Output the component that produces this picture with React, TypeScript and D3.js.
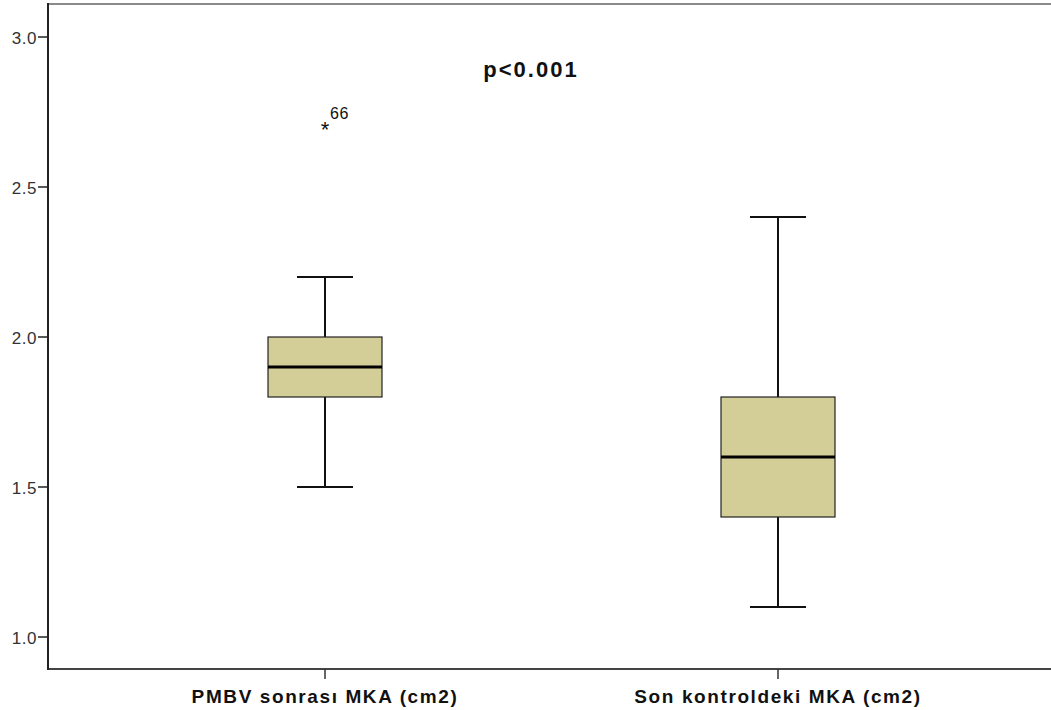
import React from 'react';
import * as d3 from 'd3';

// box plot summaries
const categories = ['PMBV sonrası MKA (cm2)', 'Son kontroldeki MKA (cm2)'];
const whiskerLow = [1.5, 1.1];
const q1 = [1.8, 1.4];
const median = [1.9, 1.6];
const q3 = [2.0, 1.8];
const whiskerHigh = [2.2, 2.4];
const outlierValues = [[2.7], []];
const outlierLabels = [['66'], []];
const yTicks = [1.0, 1.5, 2.0, 2.5, 3.0];
const pText = 'p<0.001';

const W = 1051, H = 710;
const left = 48, top = 4, bottom = 669;

export default function App() {
    const y = d3.scaleLinear().domain([1.0, 3.0]).range([637, 37]);
    const x = d3.scalePoint<string>().domain(categories).range([325, 778]);
    const boxW = 114, capW = 56;
    const font = 'Arial, "Liberation Sans", sans-serif';

    return (
        <svg width={W} height={H} style={{ position: 'absolute', left: 0, top: 0, background: '#fff' }}>
            {/* frame */}
            <line x1={left} x2={W} y1={top} y2={top} stroke="#8a8a8a" strokeWidth={2} />
            <line x1={left} x2={W} y1={bottom} y2={bottom} stroke="#444" strokeWidth={2} />
            <line x1={left} x2={left} y1={top - 1} y2={bottom + 1} stroke="#222" strokeWidth={2} />

            {/* y ticks */}
            {yTicks.map(t => (
                <g key={t}>
                    <line x1={left - 10} x2={left} y1={y(t)} y2={y(t)} stroke="#222" strokeWidth={1.5} />
                    <text x={left - 11} y={y(t) + 7} textAnchor="end" fontSize={17} letterSpacing={0.5} fill="#333" fontFamily={font}>
                        {t.toFixed(1)}
                    </text>
                </g>
            ))}

            {/* x ticks and labels */}
            {categories.map(c => (
                <g key={c}>
                    <line x1={x(c)!} x2={x(c)!} y1={bottom} y2={bottom + 10} stroke="#333" strokeWidth={1.5} />
                    <text x={x(c)!} y={703} textAnchor="middle" fontSize={19} letterSpacing={1.6} fontWeight="bold" fill="#111" fontFamily={font}>
                        {c}
                    </text>
                </g>
            ))}

            {/* boxes */}
            {categories.map((c, i) => {
                const cx = x(c)!;
                return (
                    <g key={c}>
                        <line x1={cx} x2={cx} y1={y(whiskerLow[i])} y2={y(q1[i])} stroke="#111" strokeWidth={2} />
                        <line x1={cx} x2={cx} y1={y(q3[i])} y2={y(whiskerHigh[i])} stroke="#111" strokeWidth={2} />
                        <line x1={cx - capW / 2} x2={cx + capW / 2} y1={y(whiskerLow[i])} y2={y(whiskerLow[i])} stroke="#111" strokeWidth={2} />
                        <line x1={cx - capW / 2} x2={cx + capW / 2} y1={y(whiskerHigh[i])} y2={y(whiskerHigh[i])} stroke="#111" strokeWidth={2} />
                        <rect x={cx - boxW / 2} y={y(q3[i])} width={boxW} height={y(q1[i]) - y(q3[i])}
                            fill="#d3cd98" stroke="#222" strokeWidth={1.2} />
                        <line x1={cx - boxW / 2} x2={cx + boxW / 2} y1={y(median[i])} y2={y(median[i])} stroke="#000" strokeWidth={3} />
                        {outlierValues[i].map((v, j) => (
                            <g key={j}>
                                <text x={cx} y={y(v) + 10} textAnchor="middle" fontSize={22} fill="#111" fontFamily={font}>*</text>
                                <text x={cx + 5} y={y(v) - 8} fontSize={16} letterSpacing={0.5} fill="#111" fontFamily={font}>{outlierLabels[i][j]}</text>
                            </g>
                        ))}
                    </g>
                );
            })}

            <text x={531} y={77} textAnchor="middle" fontSize={22} letterSpacing={2} fontWeight="bold" fill="#111" fontFamily={font}>{pText}</text>
        </svg>
    );
}
